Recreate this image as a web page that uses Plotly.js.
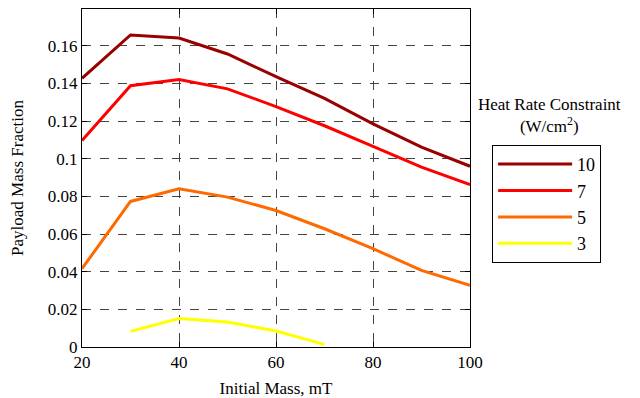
<!DOCTYPE html>
<html><head><meta charset="utf-8">
<script src="https://cdn.plot.ly/plotly-3.0.1.min.js"></script>
<style>html,body{margin:0;padding:0;background:#fff}#chart{width:640px;height:398px}</style>
</head><body><div id="chart"></div>
<script>
const massX = [20, 30, 40, 50, 60, 70, 80, 90, 100];
const rate10 = [0.1427, 0.1657, 0.1641, 0.1556, 0.1436, 0.1320, 0.1185, 0.1061, 0.0960];
const rate7 = [0.1097, 0.1388, 0.1420, 0.1371, 0.1277, 0.1175, 0.1066, 0.0955, 0.0862];
const rate5 = [0.0416, 0.0773, 0.0840, 0.0796, 0.0725, 0.0628, 0.0522, 0.0407, 0.0327];
const massX3 = [30, 40, 50, 60, 70];
const rate3 = [0.0083, 0.0151, 0.0133, 0.0085, 0.0014];
const seriesNames = ['10', '7', '5', '3'];
const xTicks = [20, 40, 60, 80, 100];
const yTicks = [0, 0.02, 0.04, 0.06, 0.08, 0.1, 0.12, 0.14, 0.16];
const yTickLabels = ['0', '0.02', '0.04', '0.06', '0.08', '0.1', '0.12', '0.14', '0.16'];

const colors = ['#990000', '#ff0000', '#ff6a00', '#ffff00'];
const xs = [massX, massX, massX, massX3];
const ys = [rate10, rate7, rate5, rate3];
const font = 'Liberation Serif, Times New Roman, serif';

const traces = ys.map((y, i) => ({
  x: xs[i], y: y, name: seriesNames[i], type: 'scatter', mode: 'lines',
  legendgroup: 'g' + i,
  line: {color: colors[i], width: 3}
}));

const axisCommon = {
  showline: true, linecolor: '#000', linewidth: 1, mirror: 'ticks',
  ticks: 'inside', ticklen: 5, tickcolor: '#000',
  showgrid: true, gridcolor: '#444', griddash: 'dash', gridwidth: 1,
  zeroline: false, tickfont: {family: font, size: 17, color: '#000'}
};

const layout = {
  width: 640, height: 398,
  margin: {l: 82, r: 170, t: 9, b: 51},
  paper_bgcolor: '#fff', plot_bgcolor: '#fff',
  font: {family: font, color: '#000'},
  xaxis: Object.assign({}, axisCommon, {
    range: [20, 100], tickvals: xTicks, ticktext: xTicks.map(String),
    title: {text: 'Initial Mass, mT', font: {family: font, size: 17}, standoff: 11}
  }),
  yaxis: Object.assign({}, axisCommon, {
    range: [0, 0.1795], tickvals: yTicks, ticktext: yTickLabels,
    title: {text: 'Payload Mass Fraction', font: {family: font, size: 17}, standoff: 19}
  }),
  showlegend: true,
  legend: {
    x: 1.057, y: 0.598, xanchor: 'left', yanchor: 'top',
    bordercolor: '#000', borderwidth: 1, bgcolor: '#fff',
    font: {family: font, size: 18, color: '#000'},
    traceorder: 'grouped', tracegroupgap: 0, itemwidth: 74
  },
  annotations: [{
    xref: 'paper', yref: 'paper', x: 1.206, y: 0.618, xanchor: 'center', yanchor: 'bottom',
    text: 'Heat Rate Constraint<br>(W/cm<sup>2</sup>)', showarrow: false,
    font: {family: font, size: 17, color: '#000'}
  }]
};

Plotly.newPlot('chart', traces, layout, {displayModeBar: false, staticPlot: true});
</script>
</body></html>
